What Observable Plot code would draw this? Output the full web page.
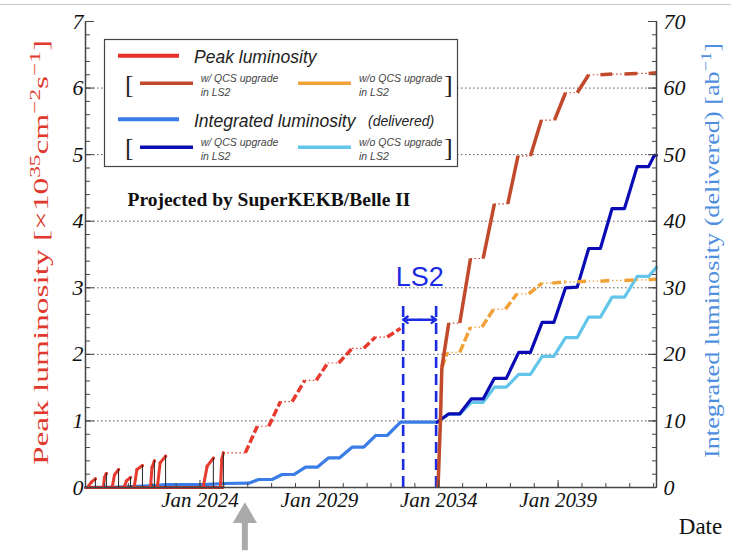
<!DOCTYPE html>
<html>
<head>
<meta charset="utf-8">
<script src="https://cdn.jsdelivr.net/npm/d3@7"></script>
<script src="https://cdn.jsdelivr.net/npm/@observablehq/plot@0.6"></script>
<style>
  body { margin: 0; background: #fff; }
  #wrap { position: relative; width: 731px; height: 556px; overflow: hidden; background: #fff; }
  #topline { position: absolute; left: 0; top: 4px; width: 731px; height: 1px; background: #c8c8c8; }
  #legend { position: absolute; left: 103px; top: 38px; }
  #legend text { font-family: "Liberation Sans", Arial, sans-serif; font-style: italic; fill: #222; }
  #legend text.br { font-family: "Liberation Serif", serif; font-style: normal; font-size: 26px; fill: #222; }
  #legend text.sm { font-size: 10.5px; fill: #444; }
  g[aria-label="y-axis tick label"] text, g[aria-label="x-axis tick label"] text { font-style: italic; }
</style>
</head>
<body>
<div id="wrap">
  <div id="topline"></div>
  <div id="chart"></div>
  <svg id="legend" width="358" height="132">
    <rect x="1.5" y="1.5" width="353" height="127" fill="#fff" stroke="#444" stroke-width="1.2"></rect>
    <line x1="15" x2="76" y1="17.7" y2="17.7" stroke="#e8302a" stroke-width="4"></line>
    <text x="91" y="25.3" font-size="17.5">Peak luminosity</text>
    <text class="br" x="22" y="55">[</text>
    <line x1="37" x2="90" y1="45.3" y2="45.3" stroke="#c24a2c" stroke-width="3.5"></line>
    <text class="sm" x="97.7" y="44">w/ QCS upgrade</text>
    <text class="sm" x="97.7" y="58">in LS2</text>
    <line x1="195" x2="248" y1="45.3" y2="45.3" stroke="#f0a238" stroke-width="3.5"></line>
    <text class="sm" x="256" y="44">w/o QCS upgrade</text>
    <text class="sm" x="256" y="58">in LS2</text>
    <text class="br" x="341" y="55">]</text>
    <line x1="15" x2="76" y1="81.3" y2="81.3" stroke="#3b7de6" stroke-width="4"></line>
    <text x="91" y="88.7" font-size="17.5">Integrated luminosity</text>
    <text x="265" y="87.5" font-size="14">(delivered)</text>
    <text class="br" x="22" y="118">[</text>
    <line x1="37" x2="90" y1="109.3" y2="109.3" stroke="#0b0bb5" stroke-width="3.5"></line>
    <text class="sm" x="97.7" y="108">w/ QCS upgrade</text>
    <text class="sm" x="97.7" y="122">in LS2</text>
    <line x1="195" x2="248" y1="109.3" y2="109.3" stroke="#63c5ea" stroke-width="3.5"></line>
    <text class="sm" x="256" y="108">w/o QCS upgrade</text>
    <text class="sm" x="256" y="122">in LS2</text>
    <text class="br" x="341" y="118">]</text>
  </svg>
</div>
<script>
// ---------------- data (x in decimal years) ----------------
// measured peak luminosity runs [1e35 cm^-2 s^-1]
const runStart   = [2019.33, 2019.96, 2020.33, 2020.84, 2021.25, 2021.93, 2022.22, 2024.14, 2024.86];
const runMidYear = [2019.45, 2020.00, 2020.42, 2020.92, 2021.36, 2021.99, 2022.33, 2024.30, 2024.91];
const runEnd     = [2019.62, 2020.08, 2020.59, 2021.09, 2021.59, 2022.09, 2022.56, 2024.56, 2024.98];
const runStartVal= [0.02, 0.02, 0.02, 0.02, 0.02, 0.02, 0.02, 0.02, 0.02];
const runMidVal  = [0.08, 0.15, 0.19, 0.10, 0.27, 0.30, 0.37, 0.32, 0.42];
const runPeak    = [0.13, 0.21, 0.27, 0.15, 0.33, 0.40, 0.47, 0.44, 0.52];
const measuredSpan = [2019.21, 2024.98];

// projected peak luminosity before LS2
const peakPreYear = [2024.98, 2025.90, 2026.40, 2026.88, 2027.37, 2027.86, 2028.39, 2028.87, 2029.35, 2029.81, 2030.37, 2030.86, 2031.35, 2031.84, 2032.40];
const peakPreVal  = [0.52, 0.52, 0.92, 0.92, 1.29, 1.29, 1.61, 1.61, 1.87, 1.87, 2.09, 2.09, 2.26, 2.26, 2.39];

// projected peak luminosity after LS2, with QCS upgrade
const peakQcsYear = [2033.97, 2034.07, 2034.13, 2034.42, 2034.88, 2035.33, 2035.86, 2036.33, 2036.89, 2037.32, 2037.84, 2038.30, 2038.85, 2039.31, 2039.80, 2040.28, 2040.77, 2041.26, 2041.78, 2042.31, 2042.79, 2043.12];
const peakQcsVal  = [0, 1.0, 1.8, 2.47, 2.47, 3.44, 3.44, 4.26, 4.26, 4.98, 4.98, 5.52, 5.52, 5.93, 5.93, 6.20, 6.20, 6.21, 6.21, 6.22, 6.22, 6.23];

// projected peak luminosity after LS2, without QCS upgrade
const peakNoQcsYear = [2034.13, 2034.36, 2034.88, 2035.33, 2035.81, 2036.30, 2036.79, 2037.28, 2037.77, 2038.33, 2038.75, 2039.31, 2039.80, 2040.28, 2040.77, 2041.26, 2041.78, 2042.31, 2042.79, 2043.12];
const peakNoQcsVal  = [1.8, 2.03, 2.03, 2.41, 2.41, 2.68, 2.68, 2.91, 2.91, 3.07, 3.07, 3.09, 3.09, 3.10, 3.10, 3.11, 3.11, 3.12, 3.12, 3.13];

// integrated luminosity [ab^-1], measured + projected up to LS2
const intPreYear = [2019.21, 2019.60, 2020.10, 2020.60, 2021.10, 2021.60, 2022.10, 2022.56, 2024.14, 2024.56, 2024.98, 2026.04, 2026.46, 2027.02, 2027.44, 2027.93, 2028.42, 2028.91, 2029.39, 2029.85, 2030.37, 2030.86, 2031.35, 2031.84, 2032.40, 2033.93];
const intPreVal  = [0, 0.01, 0.03, 0.07, 0.13, 0.20, 0.30, 0.42, 0.42, 0.50, 0.60, 0.65, 1.2, 1.2, 1.95, 1.95, 3.05, 3.05, 4.46, 4.46, 6.05, 6.05, 7.81, 7.81, 9.81, 9.81];

// integrated luminosity after LS2, with QCS upgrade
const intQcsYear = [2033.93, 2034.42, 2034.88, 2035.36, 2035.86, 2036.33, 2036.83, 2037.35, 2037.84, 2038.33, 2038.82, 2039.31, 2039.80, 2040.28, 2040.77, 2041.26, 2041.78, 2042.31, 2042.79, 2043.03, 2043.12];
const intQcsVal  = [9.81, 11.07, 11.07, 13.3, 13.3, 16.4, 16.4, 20.3, 20.3, 24.8, 24.8, 30.0, 30.1, 35.9, 35.9, 41.9, 41.9, 48.2, 48.2, 49.9, 49.9];

// integrated luminosity after LS2, without QCS upgrade
const intNoQcsYear = [2033.93, 2034.42, 2034.88, 2035.36, 2035.86, 2036.33, 2036.83, 2037.35, 2037.84, 2038.33, 2038.82, 2039.31, 2039.80, 2040.28, 2040.77, 2041.26, 2041.78, 2042.31, 2042.79, 2043.12];
const intNoQcsVal  = [9.81, 11.0, 11.0, 12.8, 12.8, 15.07, 15.07, 17.0, 17.0, 19.7, 19.7, 22.5, 22.5, 25.6, 25.6, 28.6, 28.6, 31.7, 31.7, 33.1];

// LS2 period and annotations
const ls2Bounds = [2032.51, 2033.89];
const ls2Top = 2.81;
const ls2ArrowY = 2.52;
const ls2Label = "LS2";
const ls2LabelY = 3.03;
const markerYear = 2025.88;   // grey arrow under the axis

// axes
const xDomain = [2019.205, 2043.12];
const xMajorTicks = [2024, 2029, 2034, 2039];
const xMinorTicks = d3.range(2020, 2044);
const yMajorTicks = [0, 1, 2, 3, 4, 5, 6, 7];            // peak luminosity
const yMinorTicks = d3.range(0, 7.001, 0.2);
const intMajorTicks = [0, 10, 20, 30, 40, 50, 60, 70];    // integrated luminosity
const intRatio = 10;                                       // ab^-1 per 1e35 unit on the shared scale
const gridTicks = [1, 2, 3, 4, 5, 6];

const leftLabel = "Peak luminosity [×10^35cm^-2s^-1]";
const rightLabel = "Integrated luminosity (delivered) [ab^-1]";
const projText = "Projected by SuperKEKB/Belle II";

// ---------------- helpers ----------------
const pts = (xs, ys, scale = 1) => xs.map((x, i) => ({x, y: ys[i] / scale}));
function segs(xs, ys) {
  const out = [];
  for (let i = 0; i < xs.length - 1; i++)
    out.push({x1: xs[i], y1: ys[i], x2: xs[i + 1], y2: ys[i + 1], run: ys[i + 1] > ys[i] + 1e-6});
  return out;
}
const runPts = [];
runStart.forEach((s, i) => {
  runPts.push({run: i, x: s, y: runStartVal[i]});
  runPts.push({run: i, x: runMidYear[i], y: runMidVal[i]});
  runPts.push({run: i, x: runEnd[i], y: runPeak[i]});
});
const runTable = runEnd.map((e, i) => ({x: e, peak: runPeak[i]}));

const preSegs = segs(peakPreYear, peakPreVal);
const qcsSegs = segs(peakQcsYear, peakQcsVal);
const noQcsSegs = segs(peakNoQcsYear, peakNoQcsVal);

const C = {
  red: "#e63b2e", darkred: "#c24a2c", orange: "#f0a238",
  blue: "#3b7de6", darkblue: "#0b0bb5", lightblue: "#63c5ea", ls2: "#1b2be2", axis: "#444"
};

function projMarks(data, color, runDash) {
  return [
    Plot.link(data.filter(d => !d.run), {x1: "x1", y1: "y1", x2: "x2", y2: "y2", stroke: color, strokeWidth: 1.2, strokeDasharray: "1.5,2.5"}),
    Plot.link(data.filter(d => d.run), {x1: "x1", y1: "y1", x2: "x2", y2: "y2", stroke: color, strokeWidth: 3.5, strokeDasharray: runDash})
  ];
}

const chart = Plot.plot({
  width: 731, height: 556,
  marginLeft: 85, marginRight: 75, marginTop: 21, marginBottom: 69,
  style: {fontFamily: "Liberation Serif", background: "transparent", overflow: "visible", color: "#111"},
  x: {domain: xDomain},
  y: {domain: [0, 7]},
  marks: [
    Plot.gridY(gridTicks, {stroke: "#555", strokeOpacity: 1, strokeWidth: 1, strokeDasharray: "1.5,2.5"}),
    // LS2 dashed boundaries
    Plot.ruleX(ls2Bounds, {y1: 0, y2: ls2Top, stroke: C.ls2, strokeWidth: 2.6, strokeDasharray: "11,6"}),
    // integrated luminosity (shared scale: value / ratio)
    Plot.line(pts(intPreYear, intPreVal, intRatio), {x: "x", y: "y", stroke: C.blue, strokeWidth: 3.2}),
    Plot.line(pts(intNoQcsYear, intNoQcsVal, intRatio), {x: "x", y: "y", stroke: C.lightblue, strokeWidth: 3.2}),
    Plot.line(pts(intQcsYear, intQcsVal, intRatio), {x: "x", y: "y", stroke: C.darkblue, strokeWidth: 3.2}),
    // measured peak luminosity
    Plot.line(measuredSpan.map(x => ({x, y: 0})), {x: "x", y: "y", stroke: "#c8302a", strokeWidth: 3, strokeDasharray: "2,1"}),
    Plot.line(runPts, {x: "x", y: "y", z: "run", stroke: C.red, strokeWidth: 3}),
    Plot.dot(runPts, {x: "x", y: "y", r: 1.6, fill: C.red}),
    Plot.ruleX(runTable, {x: "x", y1: 0, y2: "peak", stroke: "#222", strokeWidth: 1}),
    // projections
    ...projMarks(preSegs, C.red, "8,3"),
    ...projMarks(noQcsSegs, C.orange, "9,3"),
    ...projMarks(qcsSegs, C.darkred, null),
    // LS2 arrow and label
    Plot.arrow([0, 1], {x1: d3.mean(ls2Bounds), x2: i => ls2Bounds[i], y1: ls2ArrowY, y2: ls2ArrowY, stroke: C.ls2, strokeWidth: 2.4, headLength: 7, headAngle: 70}),
    Plot.text([ls2Label], {x: d3.mean(ls2Bounds), y: ls2LabelY, text: d => d, fill: C.ls2, fontSize: 27, fontFamily: "Liberation Sans", lineAnchor: "bottom"}),
    Plot.text([projText], {frameAnchor: "top-left", text: d => d, dx: 42, dy: 184, lineAnchor: "bottom", textAnchor: "start", fontSize: 19.5, fontWeight: "bold", fill: "#111"}),
    // frame
    Plot.ruleX([xDomain[0], xDomain[1]], {stroke: C.axis, strokeWidth: 1.5}),
    Plot.ruleY([0], {stroke: C.axis, strokeWidth: 1.5}),
    // left axis
    Plot.axisY(yMinorTicks, {anchor: "left", tickSize: -5, stroke: C.axis, fill: "none", label: null}),
    Plot.axisY(yMajorTicks, {anchor: "left", tickSize: -9, tickPadding: 11, stroke: C.axis, fill: "#111", fontSize: 22, tickFormat: d => String(d), label: null}),
    // right axis (integrated luminosity)
    Plot.axisY(yMinorTicks, {anchor: "right", tickSize: -5, stroke: C.axis, fill: "none", label: null}),
    Plot.axisY(intMajorTicks.map(v => v / intRatio), {anchor: "right", tickSize: -9, tickPadding: 16, stroke: C.axis, fill: "#111", fontSize: 22, textAnchor: "start", tickFormat: d => String(Math.round(d * intRatio)), label: null}),
    // bottom axis
    Plot.axisX(xMinorTicks, {anchor: "bottom", tickSize: -4, stroke: C.axis, fill: "none", label: null}),
    Plot.axisX(xMajorTicks, {anchor: "bottom", tickSize: -7, tickPadding: 12, stroke: C.axis, fill: "#111", fontSize: 21, tickFormat: d => `Jan ${d}`, label: null}),
    // axis titles
    Plot.text([leftLabel], {frameAnchor: "left", text: d => d, rotate: -90, dx: -45, dy: -2, fill: "#e0392c", fontSize: 22, lineAnchor: "middle", textAnchor: "middle"}),
    Plot.text([rightLabel], {frameAnchor: "right", text: d => d, rotate: -90, dx: 55, dy: -4, fill: "#4e8ee0", fontSize: 22, lineAnchor: "middle", textAnchor: "middle"}),
    Plot.text(["Date"], {frameAnchor: "bottom-right", text: d => d, dx: 44, dy: 46, fontSize: 23, lineAnchor: "bottom", textAnchor: "middle", fill: "#111"}),
    // grey arrow below the axis
    Plot.ruleX([markerYear], {y1: -0.95, y2: -0.52, stroke: "#aaa", strokeWidth: 6}),
    Plot.dot([markerYear], {x: d => d, y: -0.43, symbol: "triangle", r: 9, fill: "#aaa", stroke: "none"})
  ]
});
document.getElementById("chart").appendChild(chart);

// italic tick labels
d3.select(chart).selectAll('g[aria-label="y-axis tick label"] text, g[aria-label="x-axis tick label"] text').style("font-style", "italic");

// superscripts + stretched axis titles (matches the tall lettering of the original)
function richLabel(raw, length) {
  const t = d3.select(chart).selectAll("text").filter(function () { return this.textContent === raw; });
  const parts = raw.split(/(\^-?\d+)/).filter(s => s.length);
  t.text(null);
  parts.forEach(p => {
    if (p.startsWith("^")) {
      t.append("tspan").attr("baseline-shift", "super").attr("font-size", "0.7em").text(p.slice(1).replace("-", "\u2212"));
    } else {
      t.append("tspan").text(p);
    }
  });
  t.attr("textLength", length).attr("lengthAdjust", "spacingAndGlyphs");
}
richLabel(leftLabel, 425);
richLabel(rightLabel, 415);
</script>
</body>
</html>
